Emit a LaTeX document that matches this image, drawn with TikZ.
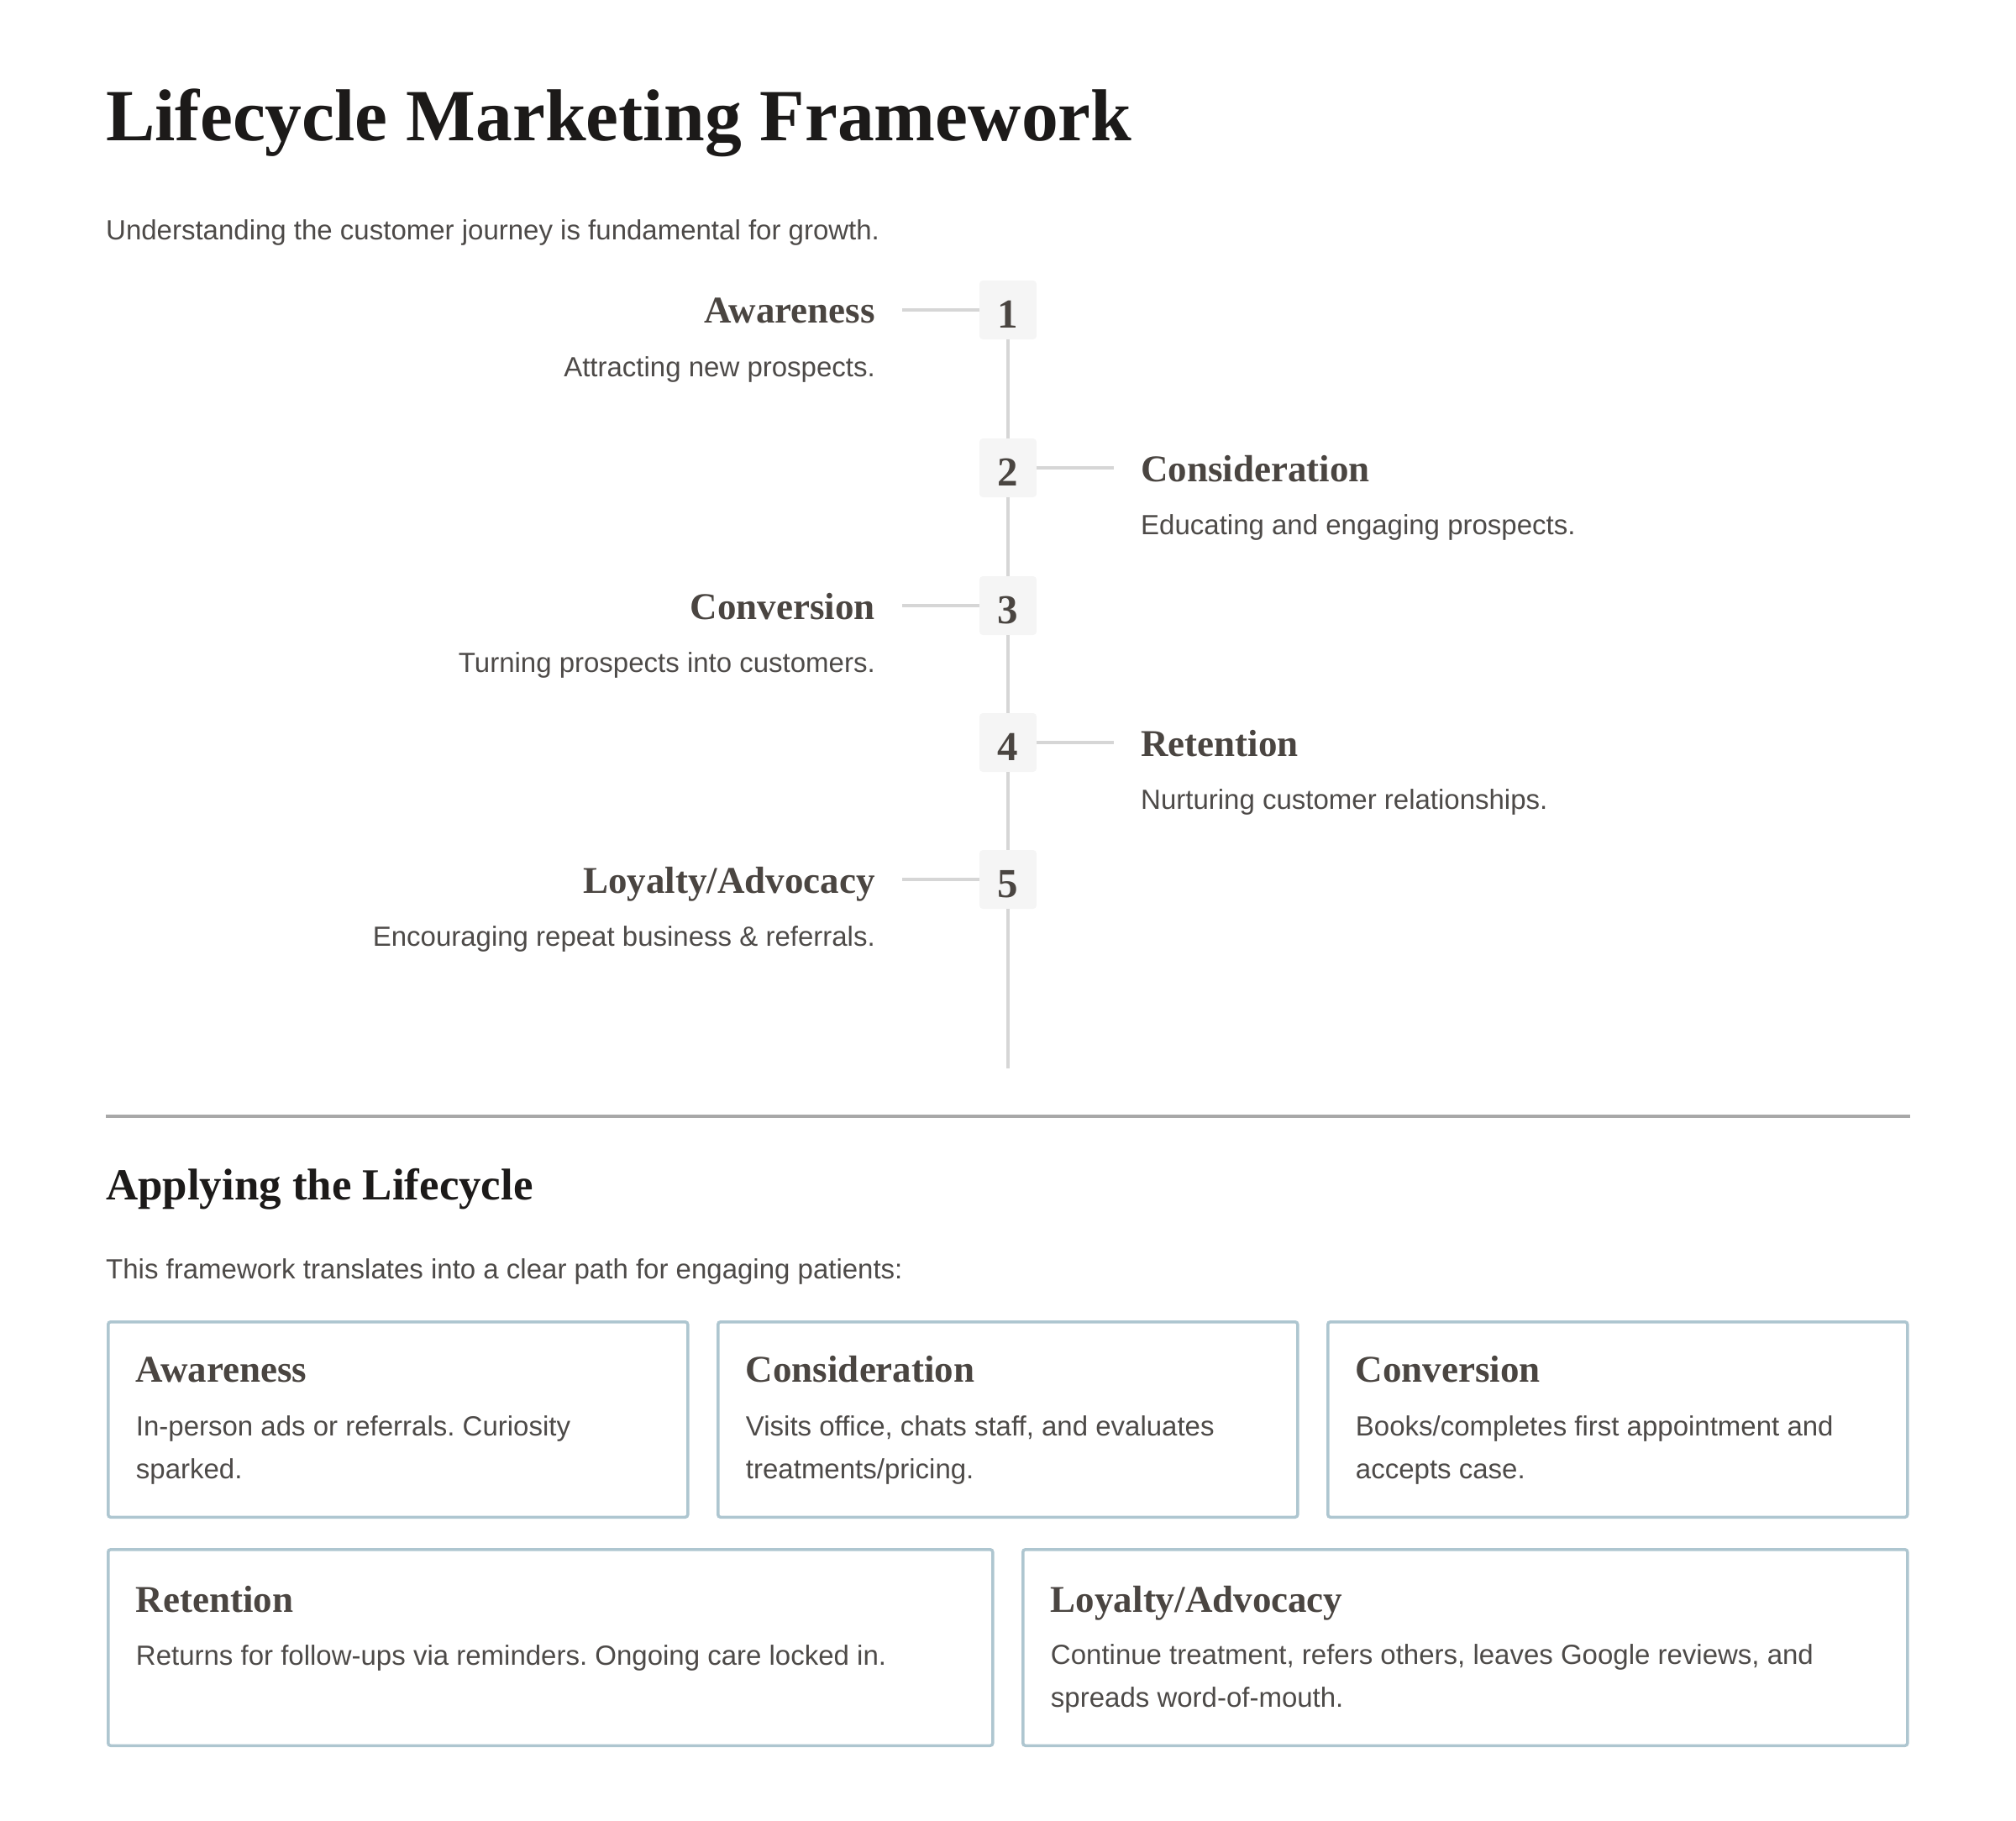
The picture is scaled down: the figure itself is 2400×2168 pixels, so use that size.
\documentclass[tikz,border=0pt]{standalone}
\usepackage{fontspec}
\setmainfont{Liberation Serif}
\newfontfamily\bodyfont{Liberation Sans}
\usetikzlibrary{positioning}
\definecolor{inkblack}{HTML}{1C1A19}
\definecolor{inkgray}{HTML}{4A4541}
\definecolor{bodygray}{HTML}{4D4A48}
\definecolor{spinegray}{HTML}{D6D6D6}
\definecolor{numfill}{HTML}{F5F5F5}
\definecolor{rulegray}{HTML}{A8A8A8}
\definecolor{cardedge}{HTML}{AEC6D0}
\frenchspacing

\begin{document}
\begin{tikzpicture}[x=1bp, y=-1bp, node distance=36bp,
    numbox/.style={rectangle, rounded corners=4bp, fill=numfill, minimum width=68bp, minimum height=70bp, inner sep=0pt, text height=42bp, text depth=0pt, text=inkgray, font=\fontsize{49bp}{49bp}\selectfont\bfseries},
    heading/.style={inner sep=0pt, text=inkblack, anchor=base west},
    stagetitle/.style={inner sep=0pt, text=inkgray, font=\fontsize{45bp}{45bp}\selectfont\bfseries},
    stagedesc/.style={inner sep=0pt, text=bodygray, font=\bodyfont\fontsize{33bp}{51bp}\selectfont},
    tick/.style={draw=spinegray, line width=3.5bp},
    card/.style={rectangle, draw=cardedge, line width=3.5bp, rounded corners=3bp, anchor=north west, inner sep=0pt, outer sep=0pt, minimum width=690bp, minimum height=232.5bp},
    widecard/.style={card, minimum width=1053bp, minimum height=233.5bp},
    cardtext/.style={stagedesc, align=left, anchor=base west}]
    \useasboundingbox (0,0) rectangle (2400,2168);

    % Header
    \node (title) [heading, font=\fontsize{87.6bp}{88bp}\selectfont\bfseries] at (126,168) {Lifecycle Marketing Framework};
    \node (intro) [stagedesc, anchor=base west] at (126,286) {Understanding the customer journey is fundamental for growth.};

    % Timeline nodes
    \node (n1) [numbox] at (1200,369) {1};
    \node (n2) [numbox] at (1200,557) {2};
    \node (n3) [numbox] at (1200,721) {3};
    \node (n4) [numbox] at (1200,884) {4};
    \node (n5) [numbox] at (1200,1047) {5};

    \node (awareness) [stagetitle, anchor=base east] at (1042,385) {Awareness};
    \node (awareness_txt) [stagedesc, anchor=base east] at (1042,448) {Attracting new prospects.};
    \node (consideration) [stagetitle, anchor=base west] at (1358,573) {Consideration};
    \node (consideration_txt) [stagedesc, anchor=base west] at (1358,636) {Educating and engaging prospects.};
    \node (conversion) [stagetitle, anchor=base east] at (1042,737) {Conversion};
    \node (conversion_txt) [stagedesc, anchor=base east] at (1042,800) {Turning prospects into customers.};
    \node (retention) [stagetitle, anchor=base west] at (1358,900) {Retention};
    \node (retention_txt) [stagedesc, anchor=base west] at (1358,963) {Nurturing customer relationships.};
    \node (loyalty) [stagetitle, anchor=base east] at (1042,1063) {Loyalty/Advocacy};
    \node (loyalty_txt) [stagedesc, anchor=base east] at (1042,1126) {Encouraging repeat business \& referrals.};

    % Timeline lines
    \coordinate (e1) at (1074,369);
    \coordinate (e2) at (1326,557);
    \coordinate (e3) at (1074,721);
    \coordinate (e4) at (1326,884);
    \coordinate (e5) at (1074,1047);
    \coordinate (spine_end) at (1200,1272);
    \draw[tick] (n1) -- (n2);
    \draw[tick] (n2) -- (n3);
    \draw[tick] (n3) -- (n4);
    \draw[tick] (n4) -- (n5);
    \draw[tick] (n5) -- (spine_end);
    \draw[tick] (e1) -- (n1.west);
    \draw[tick] (n2.east) -- (e2);
    \draw[tick] (e3) -- (n3.west);
    \draw[tick] (n4.east) -- (e4);
    \draw[tick] (e5) -- (n5.west);

    % Divider
    \coordinate (rule_l) at (126,1329);
    \coordinate (rule_r) at (2274,1329);
    \draw[draw=rulegray, line width=4bp] (rule_l) -- (rule_r);

    % Applying section
    \node (apply) [heading, font=\fontsize{52.9bp}{53bp}\selectfont\bfseries] at (126,1428) {Applying the Lifecycle};
    \node (apply_txt) [stagedesc, anchor=base west] at (126,1522) {This framework translates into a clear path for engaging patients:};

    \node (k1) [card] at (128.75,1573.75) {};
    \node (k2) [card, right=of k1.north east, anchor=north west] {};
    \node (k3) [card, right=of k2.north east, anchor=north west] {};
    \node (k4) [widecard, below=38.5bp of k1.south west, anchor=north west] {};
    \node (k5) [widecard, right=of k4.north east, anchor=north west] {};

    \node (k1_title) [stagetitle, anchor=base west] at ([shift={(33,72)}]k1.north west) {Awareness};
    \node (k1_txt) [cardtext] at ([shift={(33,187)}]k1.north west) {In-person ads or referrals. Curiosity\\sparked.};
    \node (k2_title) [stagetitle, anchor=base west] at ([shift={(33,72)}]k2.north west) {Consideration};
    \node (k2_txt) [cardtext] at ([shift={(33,187)}]k2.north west) {Visits office, chats staff, and evaluates\\treatments/pricing.};
    \node (k3_title) [stagetitle, anchor=base west] at ([shift={(33,72)}]k3.north west) {Conversion};
    \node (k3_txt) [cardtext] at ([shift={(33,187)}]k3.north west) {Books/completes first appointment and\\accepts case.};
    \node (k4_title) [stagetitle, anchor=base west] at ([shift={(33,75)}]k4.north west) {Retention};
    \node (k4_txt) [cardtext] at ([shift={(33,138)}]k4.north west) {Returns for follow-ups via reminders. Ongoing care locked in.};
    \node (k5_title) [stagetitle, anchor=base west] at ([shift={(33,75)}]k5.north west) {Loyalty/Advocacy};
    \node (k5_txt) [cardtext] at ([shift={(33,188)}]k5.north west) {Continue treatment, refers others, leaves Google reviews, and\\spreads word-of-mouth.};
\end{tikzpicture}
\end{document}
